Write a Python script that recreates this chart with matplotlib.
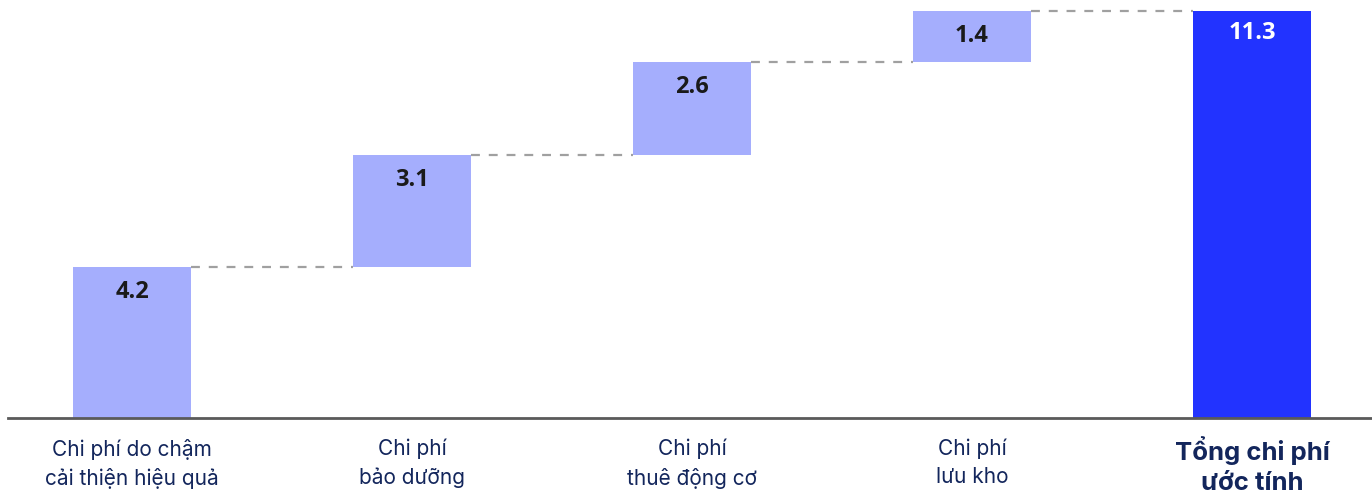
import matplotlib
matplotlib.use("Agg")
import matplotlib.pyplot as plt

categories = [
    "Chi phí do chậm\ncải thiện hiệu quả",
    "Chi phí\nbảo dưỡng",
    "Chi phí\nthuê động cơ",
    "Chi phí\nlưu kho",
    "Tổng chi phí\nước tính",
]
increments = [4.2, 3.1, 2.6, 1.4]
total = 11.3
value_labels = ["4.2", "3.1", "2.6", "1.4", "11.3"]

step_color = "#a5aefd"
total_color = "#2233ff"
label_color = "#13265c"

W, H, DPI = 1372, 495, 100
fig = plt.figure(figsize=(W / DPI, H / DPI), dpi=DPI)
ax = fig.add_axes([8 / W, 77 / H, 1 - 8 / W, 418 / H])

bar_w = 0.42
bottoms = []
run = 0.0
for v in increments:
    bottoms.append(run)
    run += v

xs = list(range(len(categories)))
heights = increments + [total]
bases = bottoms + [0.0]
colors = [step_color] * len(increments) + [total_color]

ax.bar(xs, heights, bottom=bases, width=bar_w, color=colors, edgecolor="none", zorder=2)

# dashed connectors between consecutive bar tops
tops = [b + h for b, h in zip(bases, heights)]
for i in range(len(xs) - 1):
    y = tops[i]
    ax.plot([xs[i] + bar_w / 2, xs[i + 1] - bar_w / 2], [y, y],
            linestyle=(0, (4, 4)), color="#a0a0a0", linewidth=1.6, zorder=1)

# value labels inside the top of each bar
for i, (x, t, txt) in enumerate(zip(xs, tops, value_labels)):
    is_total = i == len(xs) - 1
    ax.annotate(txt, xy=(x, t), xytext=(0, -16 if is_total else -18),
                textcoords="offset points",
                ha="center", va="center", fontsize=17, fontweight="bold",
                family="Open Sans",
                color="white" if is_total else "#1a1a1a", zorder=3)

ax.set_xlim(-0.443, 4.429)
ax.set_ylim(0, 418 / 36.0)

for s in ["top", "right", "left"]:
    ax.spines[s].set_visible(False)
ax.spines["bottom"].set_color("#5a5a5a")
ax.spines["bottom"].set_linewidth(2.0)
ax.spines["bottom"].set_zorder(4)
ax.set_yticks([])
ax.set_xticks(xs)
ax.set_xticklabels([])
ax.tick_params(axis="x", length=0)

for i, (x, lab) in enumerate(zip(xs, categories)):
    is_total = i == len(xs) - 1
    ax.text(x, -0.50 if is_total else -0.58, lab, ha="center", va="top",
            fontsize=18.5 if is_total else 15,
            fontweight="bold" if is_total else "normal",
            family="Inter", color=label_color,
            linespacing=1.38 if is_total else 1.5,
            transform=ax.transData, clip_on=False)

fig.savefig("out.png", dpi=DPI, facecolor="white")
